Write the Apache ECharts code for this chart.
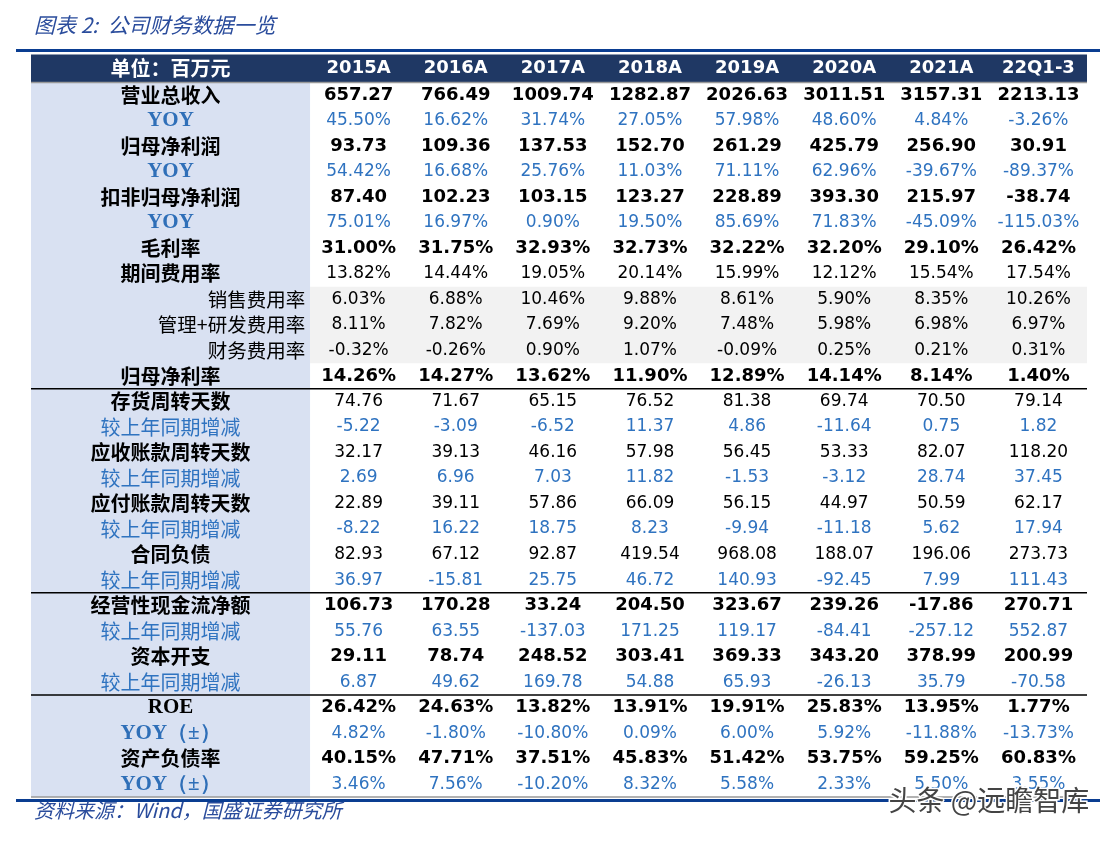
<!DOCTYPE html>
<html><head><meta charset="utf-8">
<script src="https://cdn.jsdelivr.net/npm/echarts@6/dist/echarts.min.js"></script>
<style>html,body{margin:0;padding:0;background:#fff}#c{width:1118px;height:843px}</style>
</head><body><div id="c"></div>
<script>
// ---------- data ----------
const titleText = '图表 2:  公司财务数据一览';
const sourceText = '资料来源：Wind，国盛证券研究所';
const watermarkText = '头条 @远瞻智库';
const unitLabel = '单位：百万元';
const years = ['2015A','2016A','2017A','2018A','2019A','2020A','2021A','22Q1-3'];

const revenue        = [657.27, 766.49, 1009.74, 1282.87, 2026.63, 3011.51, 3157.31, 2213.13];
const revenueYoy     = [45.50, 16.62, 31.74, 27.05, 57.98, 48.60, 4.84, -3.26];
const netProfit      = [93.73, 109.36, 137.53, 152.70, 261.29, 425.79, 256.90, 30.91];
const netProfitYoy   = [54.42, 16.68, 25.76, 11.03, 71.11, 62.96, -39.67, -89.37];
const deductProfit   = [87.40, 102.23, 103.15, 123.27, 228.89, 393.30, 215.97, -38.74];
const deductProfitYoy= [75.01, 16.97, 0.90, 19.50, 85.69, 71.83, -45.09, -115.03];
const grossMargin    = [31.00, 31.75, 32.93, 32.73, 32.22, 32.20, 29.10, 26.42];
const expenseRate    = [13.82, 14.44, 19.05, 20.14, 15.99, 12.12, 15.54, 17.54];
const sellingRate    = [6.03, 6.88, 10.46, 9.88, 8.61, 5.90, 8.35, 10.26];
const adminRdRate    = [8.11, 7.82, 7.69, 9.20, 7.48, 5.98, 6.98, 6.97];
const financeRate    = [-0.32, -0.26, 0.90, 1.07, -0.09, 0.25, 0.21, 0.31];
const netMargin      = [14.26, 14.27, 13.62, 11.90, 12.89, 14.14, 8.14, 1.40];
const invDays        = [74.76, 71.67, 65.15, 76.52, 81.38, 69.74, 70.50, 79.14];
const invDaysChg     = [-5.22, -3.09, -6.52, 11.37, 4.86, -11.64, 0.75, 1.82];
const arDays         = [32.17, 39.13, 46.16, 57.98, 56.45, 53.33, 82.07, 118.20];
const arDaysChg      = [2.69, 6.96, 7.03, 11.82, -1.53, -3.12, 28.74, 37.45];
const apDays         = [22.89, 39.11, 57.86, 66.09, 56.15, 44.97, 50.59, 62.17];
const apDaysChg      = [-8.22, 16.22, 18.75, 8.23, -9.94, -11.18, 5.62, 17.94];
const contractLiab   = [82.93, 67.12, 92.87, 419.54, 968.08, 188.07, 196.06, 273.73];
const contractLiabChg= [36.97, -15.81, 25.75, 46.72, 140.93, -92.45, 7.99, 111.43];
const opCashFlow     = [106.73, 170.28, 33.24, 204.50, 323.67, 239.26, -17.86, 270.71];
const opCashFlowChg  = [55.76, 63.55, -137.03, 171.25, 119.17, -84.41, -257.12, 552.87];
const capex          = [29.11, 78.74, 248.52, 303.41, 369.33, 343.20, 378.99, 200.99];
const capexChg       = [6.87, 49.62, 169.78, 54.88, 65.93, -26.13, 35.79, -70.58];
const roe            = [26.42, 24.63, 13.82, 13.91, 19.91, 25.83, 13.95, 1.77];
const roeYoy         = [4.82, -1.80, -10.80, 0.09, 6.00, 5.92, -11.88, -13.73];
const debtRatio      = [40.15, 47.71, 37.51, 45.83, 51.42, 53.75, 59.25, 60.83];
const debtRatioYoy   = [3.46, 7.56, -10.20, 8.32, 5.58, 2.33, 5.50, 3.55];

const rowLabels = ['营业总收入','YOY','归母净利润','YOY','扣非归母净利润','YOY','毛利率','期间费用率',
  '销售费用率','管理+研发费用率','财务费用率','归母净利率',
  '存货周转天数','较上年同期增减','应收账款周转天数','较上年同期增减','应付账款周转天数','较上年同期增减','合同负债','较上年同期增减',
  '经营性现金流净额','较上年同期增减','资本开支','较上年同期增减',
  'ROE','YOY（±）','资产负债率','YOY（±）'];
const rowValues = [revenue, revenueYoy, netProfit, netProfitYoy, deductProfit, deductProfitYoy, grossMargin, expenseRate,
  sellingRate, adminRdRate, financeRate, netMargin,
  invDays, invDaysChg, arDays, arDaysChg, apDays, apDaysChg, contractLiab, contractLiabChg,
  opCashFlow, opCashFlowChg, capex, capexChg,
  roe, roeYoy, debtRatio, debtRatioYoy];
// label kinds: m = main bold, y = blue YOY, s = sub (right aligned), c = blue change, r = ROE serif
const labelKinds = ['m','y','m','y','m','y','m','m','s','s','s','m','m','c','m','c','m','c','m','c','m','c','m','c','r','y','m','y'];
// value kinds: b = bold black, n = normal black, u = blue
const valueKinds = ['b','u','b','u','b','u','b','n','n','n','n','b','n','u','n','u','n','u','n','u','b','u','b','u','b','u','b','u'];
const pctRows    = [0,1,0,1,0,1,1,1,1,1,1,1,0,0,0,0,0,0,0,0,0,0,0,0,1,1,1,1];
const groupBreaks = [13, 21, 25];   // row boundaries drawn with a black rule
const greyRows = [9, 12];           // shaded band (rows 9..11)

// ---------- build ----------
const L = 279 / 97.1;  // label column width in data-column units
const BLUE = '#2f73c0';
const CJK = '"Noto Sans CJK SC", sans-serif';
const NUM = '"DejaVu Sans", Tahoma, sans-serif';
const SERIF = '"Liberation Serif", "DejaVu Serif", serif';

const cells = [];
// header
cells.push({value:[-L/2, 0.45], label:{formatter:unitLabel, color:'#fff', fontWeight:'bold', fontFamily:CJK, fontSize:20}});
years.forEach((yr,i)=>cells.push({value:[i+0.5, 0.45], label:{formatter:yr, color:'#fff', fontWeight:'bold', fontFamily:NUM, fontSize:18}}));
rowLabels.forEach((lab, r)=>{
  const y = r + 1.5;
  const k = labelKinds[r];
  let lbl;
  if (k==='m') lbl = {formatter:lab, color:'#000', fontWeight:'bold', fontFamily:CJK, fontSize:20};
  else if (k==='y') lbl = {formatter:lab, color:'#2f6fb8', fontWeight:'bold', fontFamily:SERIF, fontSize:21};
  else if (k==='r') lbl = {formatter:lab, color:'#000', fontWeight:'bold', fontFamily:SERIF, fontSize:21};
  else if (k==='c') lbl = {formatter:lab, color:BLUE, fontWeight:'normal', fontFamily:CJK, fontSize:20};
  else lbl = {formatter:lab, color:'#000', fontWeight:'normal', fontFamily:CJK, fontSize:19.5, align:'right'};
  cells.push({value:[k==='s' ? -0.05 : -L/2, y], label:lbl});
  rowValues[r].forEach((v,i)=>{
    const txt = v.toFixed(2) + (pctRows[r] ? '%' : '');
    const vk = valueKinds[r];
    cells.push({value:[i+0.5, y], label:{formatter:txt,
      color: vk==='u' ? BLUE : '#000',
      fontWeight: vk==='b' ? 'bold' : 'normal',
      fontFamily: NUM, fontSize: vk==='b' ? 18 : 17}});
  });
});

const nRows = rowLabels.length + 1;
// background pieces: [x0, x1, y0, y1, kind] kind 0 navy,1 light blue,2 grey,3 black rule,4 grey rule
const bg = [
  [-L, years.length, -0.1, 1, 0],
  [-L, 0, 1, nRows, 1],
  [0, years.length, greyRows[0], greyRows[1], 2],
  [-L, years.length, 1, 1, 4],
  ...groupBreaks.map(b=>[-L, years.length, b, b, 3]),
  [-L, years.length, nRows, nRows, 4]
];
const fills = ['#1f3864','#d9e1f2','#f2f2f2'];

const chart = echarts.init(document.getElementById('c'), null, {renderer:'canvas'});
chart.setOption({
  animation:false,
  backgroundColor:'#fff',
  grid:{left:31, right:31, top:57, bottom:46},
  xAxis:{type:'value', min:-L, max:years.length, show:false},
  yAxis:{type:'value', min:0, max:nRows, inverse:true, show:false},
  graphic:[
    {type:'text', left:34, top:15, style:{text:titleText, font:'italic 21px "Noto Sans CJK SC", sans-serif', fill:'#2a4c9c'}},
    {type:'rect', shape:{x:16, y:49, width:1084, height:3}, style:{fill:'#0a3d91'}},
    {type:'rect', shape:{x:16, y:799, width:1084, height:3}, style:{fill:'#0a3d91'}},
    {type:'text', left:34, top:800, style:{text:sourceText, font:'italic 20px "Noto Sans CJK SC", sans-serif', fill:'#2a4c9c'}},
    {type:'text', left:887, top:785, z:100, style:{text:watermarkText, font:'28px "Noto Sans CJK SC", sans-serif', fill:'#444444', stroke:'#ffffff', lineWidth:3}}
  ],
  series:[
    {type:'custom', silent:true, z:1, clip:false,
     encode:{x:[0,1], y:[2,3]},
     data:bg,
     renderItem:(params, api)=>{
       const p0 = api.coord([api.value(0), api.value(2)]);
       const p1 = api.coord([api.value(1), api.value(3)]);
       const k = api.value(4);
       if (k < 3) return {type:'rect', shape:{x:p0[0], y:p0[1], width:p1[0]-p0[0], height:p1[1]-p0[1]}, style:{fill:fills[k]}};
       return {type:'line', shape:{x1:p0[0], y1:p0[1], x2:p1[0], y2:p0[1]},
         style:{stroke: k===3 ? '#000' : '#999', lineWidth:1.5}};
     }},
    {type:'scatter', silent:true, z:5, symbolSize:0, itemStyle:{color:'transparent', opacity:1},
     label:{show:true, position:'inside'},
     data:cells}
  ]
});
</script></body></html>
